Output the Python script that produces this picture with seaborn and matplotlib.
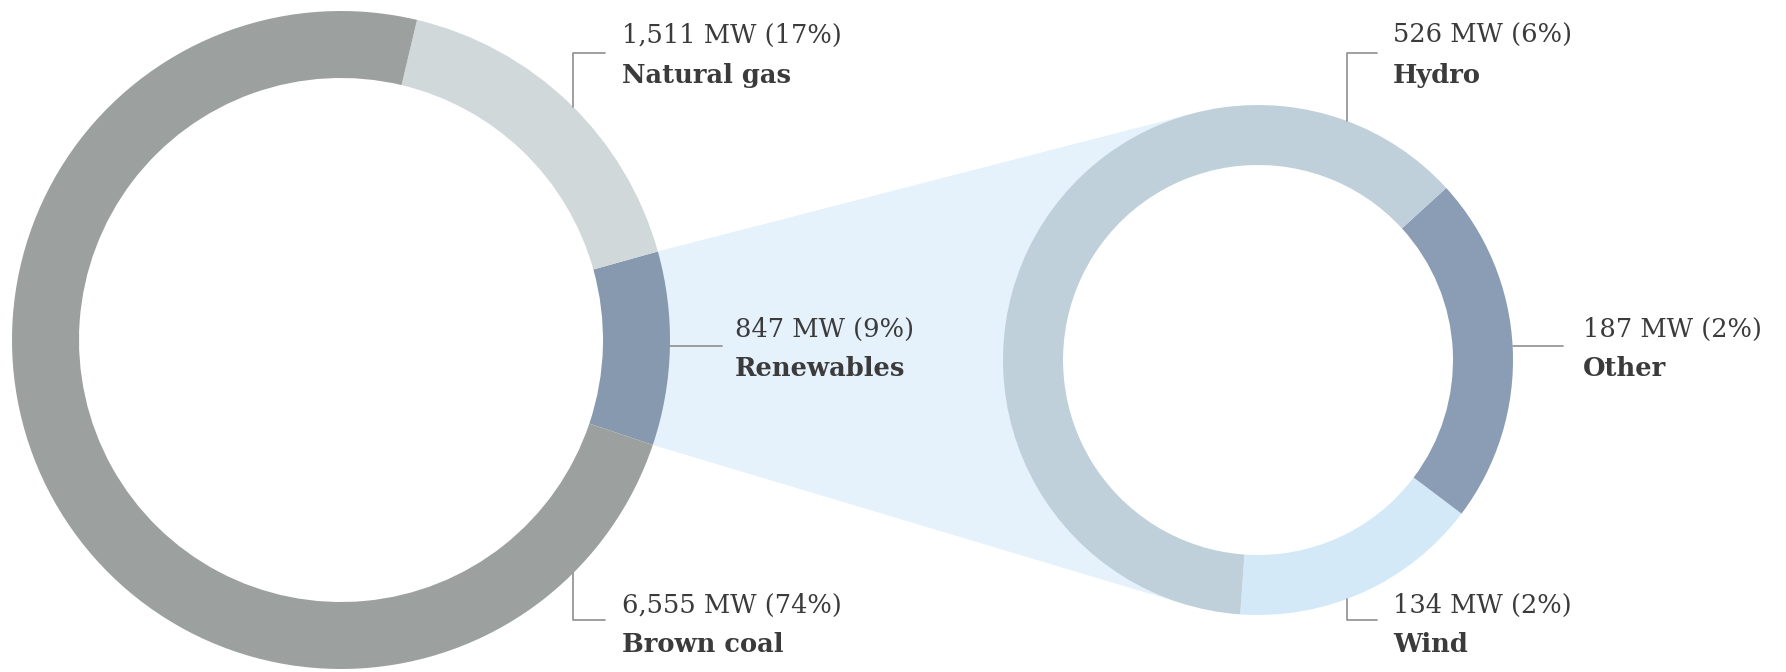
import numpy as np
import matplotlib
matplotlib.use("Agg")
import matplotlib.pyplot as plt
import seaborn as sns
from matplotlib.patches import Polygon, Circle

# Data
main_labels = ["Renewables", "Natural gas", "Brown coal"]
main_mw = [847, 1511, 6555]
main_pct = [9, 17, 74]
main_colors = ["#8799ae", "#d1d8da", "#9ca19f"]

renew_labels = ["Wind", "Other", "Hydro"]
renew_mw = [134, 187, 526]
renew_pct = [2, 2, 6]
renew_colors = ["#d4e9f7", "#8a9db5", "#bfd0db"]

cone_color = "#e5f2fb"
text_color = "#3b3b3b"
line_color = "#8f8f8f"

sns.set_theme(style="white")
plt.rcParams["font.family"] = ["DejaVu Serif", "DejaVu Sans"]

W, H = 1786, 672
fig = plt.figure(figsize=(W / 100, H / 100), dpi=100)
ax = fig.add_axes([0, 0, 1, 1])


def Y(y):
    # image row -> plot coordinate
    return H - y


# geometry (pixels)
c1, r1, w1 = (341, Y(340)), 329, 67
c2, r2, w2 = (1258, Y(360)), 255, 60
start1 = -18.6
start2 = -94

wedges1, _ = ax.pie(main_mw, colors=main_colors, startangle=start1, counterclock=True,
                    center=c1, radius=r1, wedgeprops=dict(width=w1, linewidth=0),
                    frame=True)
wedges2, _ = ax.pie(renew_mw, colors=renew_colors, startangle=start2, counterclock=True,
                    center=c2, radius=r2, wedgeprops=dict(width=w2, linewidth=0),
                    frame=True)
for w in wedges1 + wedges2:
    w.set_zorder(2)
ax.set_xlim(0, W)
ax.set_ylim(0, H)
ax.set_aspect("equal")
ax.axis("off")

# cone from the renewables wedge to the second donut (tangent lines)
th_lo = np.deg2rad(wedges1[0].theta1)
th_hi = np.deg2rad(wedges1[0].theta2)
p_hi = np.array([c1[0] + r1 * np.cos(th_hi), c1[1] + r1 * np.sin(th_hi)])
p_lo = np.array([c1[0] + r1 * np.cos(th_lo), c1[1] + r1 * np.sin(th_lo)])


def tangent(p, sign):
    d = p - np.array(c2)
    phi = np.arctan2(d[1], d[0])
    a = np.arccos(r2 / np.hypot(*d))
    t = phi + sign * a
    return np.array([c2[0] + r2 * np.cos(t), c2[1] + r2 * np.sin(t)])


t_hi = tangent(p_hi, -1)
t_lo = tangent(p_lo, 1)
ax.add_patch(Polygon([p_hi, t_hi, c2, t_lo, p_lo], closed=True, facecolor=cone_color,
                     edgecolor="none", zorder=1))
ax.add_patch(Circle(c2, r2 - w2, facecolor="white", edgecolor="none", zorder=1.5))

FS = 18.5


def label(x, y1, top, bottom):
    ax.text(x, Y(y1), top, fontsize=FS, color=text_color, va="center", ha="left", zorder=5)
    ax.text(x, Y(y1 + 40), bottom, fontsize=FS, color=text_color, va="center", ha="left",
            fontweight="bold", zorder=5)


def ring_y(c, r, x, upper):
    dy = np.sqrt(r ** 2 - (x - c[0]) ** 2)
    return c[1] + dy if upper else c[1] - dy


def txt(mw, pct):
    return f"{mw:,} MW ({pct}%)"


# natural gas (top left)
x = 573
ax.plot([x, x, 605], [ring_y(c1, r1, x, True), Y(53), Y(53)], color=line_color, lw=1.2, zorder=4)
label(622, 35, txt(main_mw[1], main_pct[1]), main_labels[1])

# renewables (right of first donut)
ax.plot([c1[0] + r1, 722], [Y(346), Y(346)], color=line_color, lw=1.2, zorder=4)
label(735, 329, txt(main_mw[0], main_pct[0]), main_labels[0])

# brown coal (bottom left)
ax.plot([x, x, 605], [ring_y(c1, r1, x, False), Y(620), Y(620)], color=line_color, lw=1.2, zorder=4)
label(622, 605, txt(main_mw[2], main_pct[2]), main_labels[2])

# hydro
x = 1347
ax.plot([x, x, 1377], [ring_y(c2, r2, x, True), Y(53), Y(53)], color=line_color, lw=1.2, zorder=4)
label(1393, 35, txt(renew_mw[2], renew_pct[2]), renew_labels[2])

# other
ax.plot([c2[0] + r2, 1563], [Y(346), Y(346)], color=line_color, lw=1.2, zorder=4)
label(1583, 329, txt(renew_mw[1], renew_pct[1]), renew_labels[1])

# wind
ax.plot([x, x, 1377], [ring_y(c2, r2, x, False), Y(620), Y(620)], color=line_color, lw=1.2, zorder=4)
label(1393, 605, txt(renew_mw[0], renew_pct[0]), renew_labels[0])

fig.savefig("out.png", dpi=100, facecolor="white")
